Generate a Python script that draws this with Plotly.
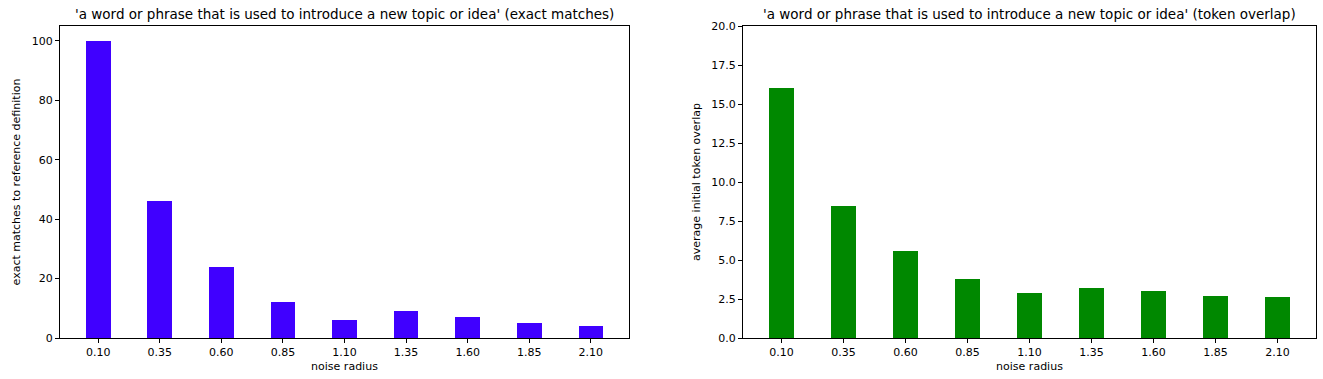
import plotly.graph_objects as go

categories = ["0.10", "0.35", "0.60", "0.85", "1.10", "1.35", "1.60", "1.85", "2.10"]
exact_matches = [100, 46, 24, 12, 6, 9, 7, 5, 4]
token_overlap = [16.0, 8.45, 5.58, 3.78, 2.86, 3.22, 3.01, 2.69, 2.61]

title_left = "'a word or phrase that is used to introduce a new topic or idea' (exact matches)"
title_right = "'a word or phrase that is used to introduce a new topic or idea' (token overlap)"

W, H = 1323, 379
FONT = "DejaVu Sans"

fig = go.Figure()
xpos = list(range(len(categories)))
fig.add_trace(go.Bar(x=xpos, y=exact_matches, width=0.4, marker=dict(color="#4000ff", line=dict(width=0)),
                     xaxis="x", yaxis="y", showlegend=False))
fig.add_trace(go.Bar(x=xpos, y=token_overlap, width=0.4, marker=dict(color="#008800", line=dict(width=0)),
                     xaxis="x2", yaxis="y2", showlegend=False))

def px_x(p):
    return p / W

def px_y(p):
    return 1 - p / H

axis_common = dict(showline=True, linecolor="black", linewidth=1, mirror=True, ticks="outside",
                   ticklen=4, tickcolor="black", showgrid=False, zeroline=False, automargin=False,
                   tickfont=dict(family=FONT, size=11, color="black"))

fig.update_layout(
    width=W, height=H, margin=dict(l=0, r=0, t=0, b=0),
    paper_bgcolor="white", plot_bgcolor="white",
    font=dict(family=FONT, color="black"),
    bargap=0,
    xaxis=dict(domain=[px_x(60), px_x(629)], anchor="y", range=[-0.62, 8.62],
               tickvals=xpos, ticktext=categories,
               title=dict(text="noise radius", font=dict(size=11), standoff=4), **axis_common),
    yaxis=dict(domain=[px_y(338), px_y(26)], anchor="x", range=[0, 105],
               tickvals=[0, 20, 40, 60, 80, 100],
               title=dict(text="exact matches to reference definition", font=dict(size=11), standoff=8),
               **axis_common),
    xaxis2=dict(domain=[px_x(743), px_x(1316)], anchor="y2", range=[-0.62, 8.62],
                tickvals=xpos, ticktext=categories,
                title=dict(text="noise radius", font=dict(size=11), standoff=4), **axis_common),
    yaxis2=dict(domain=[px_y(338), px_y(26)], anchor="x2", range=[0, 20],
                tickvals=[0, 2.5, 5, 7.5, 10, 12.5, 15, 17.5, 20],
                ticktext=["0.0", "2.5", "5.0", "7.5", "10.0", "12.5", "15.0", "17.5", "20.0"],
                title=dict(text="average initial token overlap", font=dict(size=11), standoff=8),
                **axis_common),
    annotations=[
        dict(text=title_left, x=(px_x(60) + px_x(629)) / 2, y=px_y(14), xref="paper", yref="paper",
             showarrow=False, font=dict(family=FONT, size=13.5, color="black"), xanchor="center", yanchor="middle"),
        dict(text=title_right, x=(px_x(743) + px_x(1316)) / 2, y=px_y(14), xref="paper", yref="paper",
             showarrow=False, font=dict(family=FONT, size=13.5, color="black"), xanchor="center", yanchor="middle"),
    ],
)

fig.write_html("out.html", config={"displayModeBar": False},
               post_script="document.body.style.margin='0';")
